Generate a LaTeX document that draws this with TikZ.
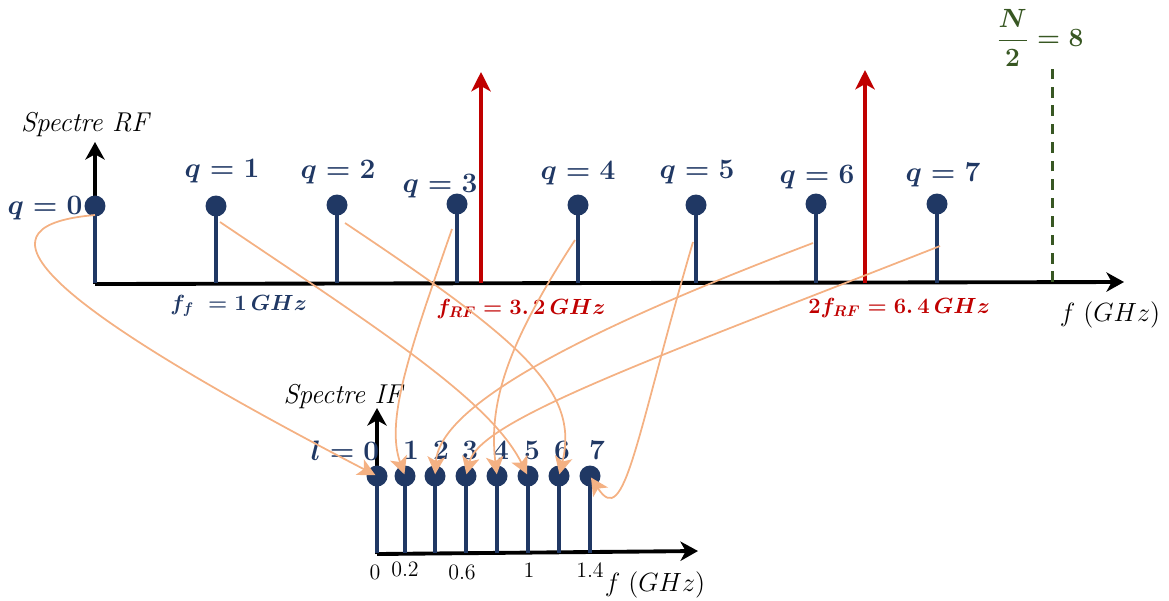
\RequirePackage{fix-cm}
\documentclass[tikz,border=0pt]{standalone}
\usepackage{amsmath}
\usetikzlibrary{arrows.meta,calc}
\definecolor{navy}{HTML}{203864}
\definecolor{darkred}{HTML}{C00000}
\definecolor{olive}{HTML}{385723}
\definecolor{peach}{HTML}{F4B183}
\tikzset{
  axis/.style={draw=black, line width=2.2pt, -{Stealth[length=10pt,width=11pt,inset=3pt]}},
  stem/.style={draw=navy, line width=2pt},
  dot/.style={circle, fill=navy, inner sep=0pt, minimum size=0.42cm},
  rfline/.style={draw=darkred, line width=2pt, -{Stealth[length=11pt,width=11pt,inset=3pt]}},
  nyq/.style={draw=olive, line width=1.7pt, dash pattern=on 6pt off 4.5pt},
  link/.style={draw=peach, line width=1pt, -{Stealth[length=10pt,width=10pt,inset=2.5pt]}, shorten >=1pt},
  qlab/.style={text=navy, font=\fontsize{16}{18}\selectfont\boldmath, inner sep=0pt},
  flab/.style={font=\fontsize{12.5}{14}\selectfont\boldmath, inner sep=0pt, anchor=west},
  ttl/.style={font=\fontsize{15.5}{18}\selectfont\itshape, inner sep=0pt},
  tick/.style={font=\fontsize{12.5}{14}\selectfont, inner sep=0pt},
  flabx/.style={font=\fontsize{15}{17}\selectfont, inner sep=0pt},
}
\begin{document}
\begin{tikzpicture}[x=0.02cm,y=-0.02cm]
\useasboundingbox (0,0) rectangle (1169,600);

% ---------- RF spectrum ----------
\coordinate (O1) at (95,284);
\coordinate (yRF) at (95,142);
\coordinate (xRF) at (1124,282);
\draw[axis] (O1) -- (yRF);
\draw[axis] (O1) -- (xRF);
\node[ttl] (tRF) at (85,125) {Spectre RF};

\foreach \i/\x/\y in {0/95/206,1/216/206,2/337/205,3/457/204,4/578/205,5/696/205,6/816/204,7/937/204}{
  \node[dot] (q\i) at (\x,\y) {};
  \draw[stem] (q\i.center) -- (\x,283);
}
\node[qlab] (lq0) at (45,208) {$q=0$};
\node[qlab] (lq1) at (222,171) {$q=1$};
\node[qlab] (lq2) at (338,172) {$q=2$};
\node[qlab] (lq3) at (440,186) {$q=3$};
\node[qlab] (lq4) at (578,173) {$q=4$};
\node[qlab] (lq5) at (697,172) {$q=5$};
\node[qlab] (lq6) at (817,177) {$q=6$};
\node[qlab] (lq7) at (943,175) {$q=7$};

% RF carrier and its double
\coordinate (r1b) at (481,283);
\coordinate (r1t) at (481,72);
\coordinate (r2b) at (865,283);
\coordinate (r2t) at (865,70);
\draw[rfline] (r1b) -- (r1t);
\draw[rfline] (r2b) -- (r2t);

% Nyquist line
\coordinate (nb) at (1052,282);
\coordinate (nt) at (1052,68);
\draw[nyq] (nb) -- (nt);
\node[text=olive, font=\fontsize{15}{17}\selectfont\boldmath, inner sep=0pt] (lN) at (1040,38) {$\displaystyle\frac{N}{2}=8$};

\node[flab, text=navy] (lff) at (170,306) {$f_f\;=1\,GHz$};
\node[flab, text=darkred] (lfrf) at (436,309) {$f_{RF}=3.\,2\,GHz$};
\node[flab, text=darkred] (l2frf) at (808,308) {$2f_{RF}=6.\,4\,GHz$};
\node[flabx] (lfx1) at (1110,315) {$f\ (GHz)$};

% ---------- IF spectrum ----------
\coordinate (O2) at (377,554);
\coordinate (yIF) at (377,408);
\coordinate (xIF) at (698,551);
\draw[axis] (O2) -- (yIF);
\draw[axis] (O2) -- (xIF);
\node[ttl] (tIF) at (343,397) {Spectre IF};

\foreach \i/\x in {0/377,1/405,2/435,3/466,4/497,5/528,6/559,7/590}{
  \node[dot] (l\i) at (\x,476) {};
  \draw[stem] (l\i.center) -- (\x,553);
}
\node[qlab] (ll0) at (345,451) {$l=0$};
\foreach \i/\x in {1/411,2/441,3/470,4/501,5/532,6/562,7/597}{
  \node[qlab] (ll\i) at (\x,450) {$\mathbf{\i}$};
}
\node[tick] (t0) at (375,572) {0};
\node[tick] (t02) at (405,569) {0.2};
\node[tick] (t06) at (462,572) {0.6};
\node[tick] (t1) at (529,570) {1};
\node[tick] (t14) at (590,570) {1.4};
\node[flabx] (lfx2) at (655,585) {$f\ (GHz)$};

% ---------- folding connectors ----------
\coordinate (s0) at (95,215);
\coordinate (s1) at (220,222);
\coordinate (s2) at (345,223);
\coordinate (s3) at (452,229);
\coordinate (s4) at (575,240);
\coordinate (s5) at (693,242);
\coordinate (s6) at (813,243);
\coordinate (s7) at (940,246);

\draw[link] (s0) .. controls (-20,225) and (10,285) .. (l0.center);
\draw[link] (s1) .. controls (380,330) and (490,400) .. (l5.center);
\draw[link] (s2) .. controls (520,340) and (580,390) .. (l6.center);
\draw[link] (s3) .. controls (410,350) and (385,420) .. (l1.center);
\draw[link] (s4) .. controls (510,340) and (488,400) .. (l4.center);
\draw[link] (s5) .. controls (635,440) and (625,530) .. (l7.center);
\draw[link] (s6) .. controls (610,320) and (440,400) .. (l2.center);
\draw[link] (s7) .. controls (650,360) and (480,420) .. (l3.center);
\end{tikzpicture}
\end{document}
